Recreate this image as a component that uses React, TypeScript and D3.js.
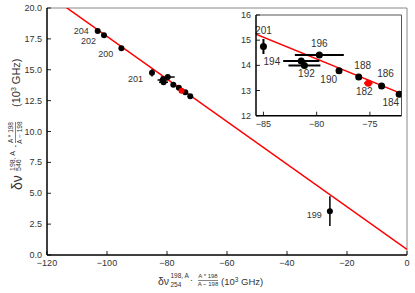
import React from 'react';
import * as d3 from 'd3';

// isotope data (10^3 GHz)
const isotopes = ['204', '202', '200', '201', '199', '196', '194', '192', '190', '188', '186', '184', '182'];
const xVals = [-103.1, -101.0, -95.2, -85.0, -25.7, -79.75, -81.45, -81.15, -77.9, -76.05, -73.9, -72.25, -75.15];
const yVals = [18.13, 17.8, 16.75, 14.75, 3.55, 14.41, 14.17, 13.99, 13.79, 13.54, 13.18, 12.85, 13.29];
const xErrs = [0, 0, 0, 0, 0, 2.3, 1.7, 1.5, 0, 0, 0, 0, 0.4];
const yErrs = [0, 0, 0, 0.3, 1.2, 0, 0, 0, 0, 0, 0, 0, 0];
const highlighted = ['182'];

// fitted line y = a + b*x
const fitA = 0.45;
const fitB = -0.1725;

const mainXTicks = [-120, -100, -80, -60, -40, -20, 0];
const mainYTicks = [0, 2.5, 5, 7.5, 10, 12.5, 15, 17.5, 20];
const insetXTicks = [-85, -80, -75];
const insetYTicks = [12, 13, 14, 15, 16];

// label placement (pixel offsets from the point)
const mainLabels: any = {
  '204': [-9, 3, 'end'],
  '202': [-8, 8.5, 'end'],
  '200': [-8, 9, 'end'],
  '201': [-9, 9, 'end'],
  '199': [-8, 7, 'end'],
};
const insetLabels: any = {
  '201': [0, -12, 'middle'],
  '196': [0, -8, 'middle'],
  '194': [-21, 4, 'end'],
  '192': [2, 11, 'middle'],
  '190': [-2, 12, 'end'],
  '188': [4, -8, 'middle'],
  '186': [4, -9, 'middle'],
  '184': [0, 12, 'end'],
  '182': [-4, 12, 'middle'],
};

const FONT = '"Liberation Sans", Arial, Helvetica, sans-serif';
const TXT = '#333';

const points = isotopes.map((name, i) => ({
  name, x: xVals[i], y: yVals[i], xe: xErrs[i], ye: yErrs[i],
  red: highlighted.includes(name),
}));

function Panel({ x, y, xTicks, yTicks, xFmt, yFmt, labels, r, clipId, inset }: any) {
  const [x0, x1] = x.range();
  const [y0, y1] = y.range();
  const dom = x.domain();
  const fit = d3.line<number>().x((d) => x(d)).y((d) => y(fitA + fitB * d));
  return (
    <g>
      <defs>
        <clipPath id={clipId}>
          <rect x={x0} y={y1} width={x1 - x0} height={y0 - y1} />
        </clipPath>
      </defs>
      {inset && <rect x={x0} y={y1} width={x1 - x0} height={y0 - y1} fill="#fff" />}
      {/* frame: top + right gray */}
      <line x1={x0} x2={x1} y1={y1} y2={y1} stroke={inset ? '#555' : '#888'} strokeWidth={1} />
      <line x1={x1} x2={x1} y1={y1} y2={y0} stroke={inset ? '#555' : '#888'} strokeWidth={1} />
      {/* ticks */}
      {xTicks.map((t: number) => (
        <g key={'x' + t}>
          <line x1={x(t)} x2={x(t)} y1={y0} y2={y0 - 4} stroke="#222" strokeWidth={1} />
          <text x={x(t)} y={y0 + 11} fontSize={9} fill={TXT} textAnchor="middle">{xFmt(t)}</text>
        </g>
      ))}
      {yTicks.map((t: number) => (
        <g key={'y' + t}>
          <line x1={x0} x2={x0 + 4} y1={y(t)} y2={y(t)} stroke="#222" strokeWidth={1} />
          <text x={x0 - 5} y={y(t) + 3} fontSize={9} fill={TXT} textAnchor="end">{yFmt(t)}</text>
        </g>
      ))}
      <g clipPath={`url(#${clipId})`}>
        <path d={fit([dom[0], dom[1]]) || ''} stroke="#f00" strokeWidth={1.5} fill="none" />
        {points.map((p) => (
          <g key={p.name}>
            {p.xe > 0 && (
              <line x1={x(p.x - p.xe)} x2={x(p.x + p.xe)} y1={y(p.y)} y2={y(p.y)}
                stroke={p.red ? '#f00' : '#000'} strokeWidth={inset ? 2 : 1.5} />
            )}
            {p.ye > 0 && (
              <line x1={x(p.x)} x2={x(p.x)} y1={y(p.y - p.ye)} y2={y(p.y + p.ye)}
                stroke="#000" strokeWidth={inset ? 2 : 1.5} />
            )}
            <circle cx={x(p.x)} cy={y(p.y)} r={r} fill={p.red ? '#f00' : '#000'} />
          </g>
        ))}
      </g>
      {points.filter((p) => labels[p.name]).map((p) => {
        const [dx, dy, anchor] = labels[p.name];
        return (
          <text key={'l' + p.name} x={x(p.x) + dx} y={y(p.y) + dy} fontSize={inset ? 10 : 9}
            fill={TXT} textAnchor={anchor}>{p.name}</text>
        );
      })}
      {/* frame: left + bottom black */}
      <line x1={x0} x2={x0} y1={y1} y2={y0} stroke="#000" strokeWidth={1.5} />
      <line x1={x0} x2={x1} y1={y0} y2={y0} stroke="#000" strokeWidth={1.5} />
    </g>
  );
}

export default function App() {
  const width = 415;
  const height = 293;

  const mainX = d3.scaleLinear().domain([-120, 0]).range([47, 407]);
  const mainY = d3.scaleLinear().domain([0, 20]).range([255, 8]);
  const insX = d3.scaleLinear().domain([-85.7, -72.03]).range([256, 401.5]);
  const insY = d3.scaleLinear().domain([12, 16]).range([115.7, 15]);

  const intFmt = d3.format('d');
  const oneDec = d3.format('.1f');

  return (
    <svg width={width} height={height} fontFamily={FONT}
      style={{ position: 'absolute', left: 0, top: 0, background: '#fff' }}>
      <Panel x={mainX} y={mainY} xTicks={mainXTicks} yTicks={mainYTicks} xFmt={intFmt} yFmt={oneDec}
        labels={mainLabels} r={3} clipId="clipMain" inset={false} />
      <Panel x={insX} y={insY} xTicks={insetXTicks} yTicks={insetYTicks} xFmt={intFmt} yFmt={intFmt}
        labels={insetLabels} r={3.5} clipId="clipInset" inset={true} />

      {/* x axis title */}
      <g transform="translate(158,285)" fill={TXT}>
        <text x={0} y={0} fontSize={10.5}>δν</text>
        <text x={12.5} y={-7} fontSize={6.5}>198, A</text>
        <text x={12.5} y={2} fontSize={6.5}>254</text>
        <text x={32} y={-2} fontSize={9}>·</text>
        <text x={50} y={-7} fontSize={6} textAnchor="middle">A * 198</text>
        <line x1={40} x2={60} y1={-4.5} y2={-4.5} stroke={TXT} strokeWidth={0.6} />
        <text x={50} y={1} fontSize={6} textAnchor="middle">A − 198</text>
        <text x={63} y={0} fontSize={9.5}>(10<tspan dy={-3} fontSize={6.5}>3</tspan><tspan dy={3}> GHz)</tspan></text>
      </g>

      {/* y axis title */}
      <g transform="translate(22,190) rotate(-90)" fill={TXT}>
        <text x={0} y={0} fontSize={14}>δν</text>
        <text x={19} y={-7} fontSize={7}>198, A</text>
        <text x={19} y={-1} fontSize={7}>546</text>
        <text x={42} y={-3} fontSize={11}>·</text>
        <text x={57.5} y={-9} fontSize={6.5} textAnchor="middle">A * 198</text>
        <line x1={47} x2={68} y1={-6.5} y2={-6.5} stroke={TXT} strokeWidth={0.6} />
        <text x={57.5} y={-0.5} fontSize={6.5} textAnchor="middle">A − 198</text>
        <text x={83} y={-2} fontSize={11}>(10<tspan dy={-4} fontSize={7}>3</tspan><tspan dy={4}> GHz)</tspan></text>
      </g>
    </svg>
  );
}
